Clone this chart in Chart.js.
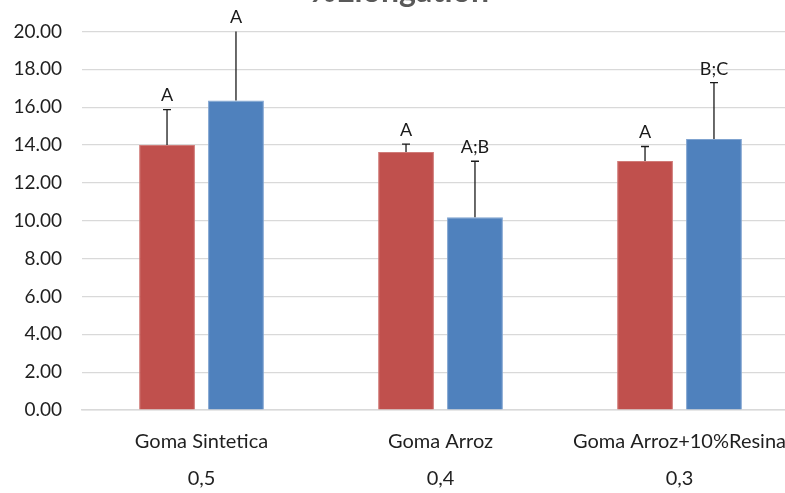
<!DOCTYPE html>
<html>
<head>
<meta charset="utf-8">
<script src="https://cdn.jsdelivr.net/npm/chart.js@4"></script>
<style>
  html, body { margin: 0; padding: 0; background: #fff; }
  #wrap { position: relative; width: 785px; height: 493px; overflow: hidden; }
  #box { position: absolute; left: 0; top: -35px; width: 826px; height: 545px; }
</style>
</head>
<body>
<div id="wrap"><div id="box"><canvas id="c"></canvas></div></div>
<script>
const titleText = '%Elongation';
const categories = ['Goma Sintetica', 'Goma Arroz', 'Goma Arroz+10%Resina'];
const subLabels = ['0,5', '0,4', '0,3'];
const redValues = [14.0, 13.63, 13.15];
const redErrors = [1.87, 0.41, 0.77];
const blueValues = [16.35, 10.18, 14.31];
const blueErrors = [4.0, 2.96, 2.98];
const redLetters = ['A', 'A', 'A'];
const blueLetters = ['A', 'A;B', 'B;C'];
const yMin = 0, yMax = 20, yStep = 2;

const errors = [redErrors, blueErrors];
const letters = [redLetters, blueLetters];
const FONT = 'Lato, "Liberation Sans", sans-serif';

const errorPlugin = {
  id: 'errorBars',
  afterDatasetsDraw(chart) {
    const ctx = chart.ctx;
    const area = chart.chartArea;
    const ys = chart.scales.y;
    chart.data.datasets.forEach((ds, di) => {
      const meta = chart.getDatasetMeta(di);
      meta.data.forEach((bar, i) => {
        const v = ds.data[i];
        const e = errors[di][i];
        const x = bar.x;
        const y0 = ys.getPixelForValue(v);
        const y1 = ys.getPixelForValue(v + e);
        ctx.save();
        ctx.beginPath();
        ctx.rect(area.left, area.top, area.right - area.left, area.bottom - area.top);
        ctx.clip();
        ctx.strokeStyle = '#1a1a1a';
        ctx.lineWidth = 1.3;
        ctx.beginPath();
        ctx.moveTo(x, y0);
        ctx.lineTo(x, y1);
        ctx.moveTo(x - 4, y1);
        ctx.lineTo(x + 4, y1);
        ctx.stroke();
        ctx.restore();
        ctx.save();
        ctx.fillStyle = '#1a1a1a';
        ctx.font = '18px ' + FONT;
        ctx.textAlign = 'center';
        ctx.textBaseline = 'middle';
        ctx.fillText(letters[di][i], x, Math.max(y1, area.top) - 14);
        ctx.restore();
      });
    });
  }
};

new Chart(document.getElementById('c'), {
  type: 'bar',
  data: {
    labels: categories.map((c, i) => [c, subLabels[i]]),
    datasets: [
      { label: 'Serie 1', data: redValues, backgroundColor: '#C0504D', borderColor: '#D07B78', borderWidth: 1 },
      { label: 'Serie 2', data: blueValues, backgroundColor: '#4F81BD', borderColor: '#7FA3D0', borderWidth: 1 }
    ]
  },
  options: {
    responsive: true,
    maintainAspectRatio: false,
    animation: false,
    layout: { padding: { left: 0, right: 27, top: 0, bottom: 0 } },
    datasets: { bar: { categoryPercentage: 0.577, barPercentage: 0.81 } },
    plugins: {
      legend: { display: false },
      tooltip: { enabled: false },
      title: {
        display: true,
        text: titleText,
        color: '#595959',
        font: { family: FONT, size: 32, weight: 'bold' },
        padding: { top: 7, bottom: 21 }
      }
    },
    scales: {
      x: {
        grid: { display: false, drawTicks: false },
        border: { display: true, color: '#d9d9d9', width: 1.5 },
        ticks: {
          color: '#1f1f1f',
          font: { family: FONT, size: 20, lineHeight: 1.85 },
          padding: 13,
          maxRotation: 0,
          autoSkip: false
        }
      },
      y: {
        min: yMin,
        max: yMax,
        afterFit: s => { s.width = 82; },
        grid: { color: '#d9d9d9', lineWidth: 1.2, drawTicks: false },
        border: { display: false },
        ticks: {
          stepSize: yStep,
          color: '#1f1f1f',
          padding: 20,
          font: { family: FONT, size: 19 },
          callback: v => Number(v).toFixed(2)
        }
      }
    }
  },
  plugins: [errorPlugin]
});
</script>
</body>
</html>
